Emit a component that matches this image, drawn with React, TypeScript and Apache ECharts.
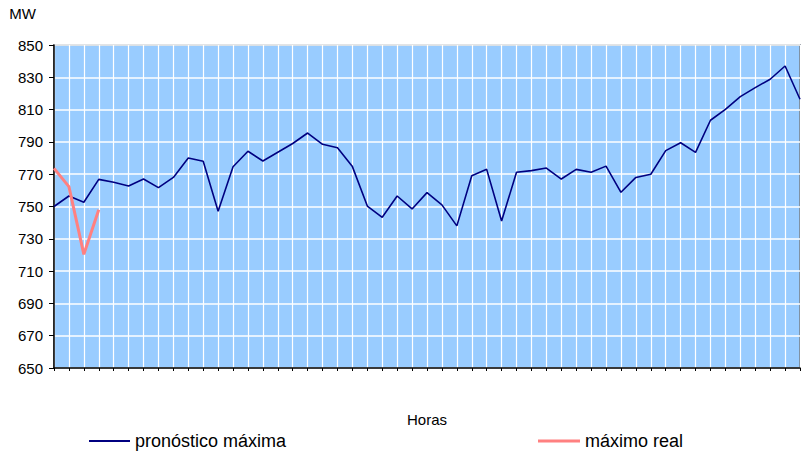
import React, { useEffect, useRef } from "react";
import * as echarts from "echarts";

const categories: string[] = Array.from({ length: 51 }, (_, i) => String(i + 1));

const forecastMax: number[] = [
  750, 756.5, 752.6, 766.8, 765, 762.7, 767, 761.7, 768, 780, 778, 747, 774.6,
  784.2, 778.2, 783.6, 789, 795.5, 788.5, 786.4, 774.7, 750.3, 743.3, 756.5,
  748.5, 758.6, 751, 738, 769, 773, 741, 771.2, 772.2, 773.8, 767, 773, 771.2,
  775, 758.8, 768, 770, 784.6, 789.5, 783.5, 803.4, 810.2, 818, 823.6, 828.8,
  837, 816.4,
];

const realMax: (number | null)[] = [773.6, 762.3, 720.4, 748];

const seriesNames = ["pronóstico máxima", "máximo real"];
const yAxisTitle = "MW";
const xAxisTitle = "Horas";

const FONT = "'Liberation Sans', Arial, sans-serif";

export default function App() {
  const ref = useRef<HTMLDivElement>(null);

  useEffect(() => {
    if (!ref.current) return;
    const chart = echarts.init(ref.current, undefined, { renderer: "svg" });
    chart.setOption({
      animation: false,
      backgroundColor: "#ffffff",
      textStyle: { fontFamily: FONT },
      grid: {
        left: 54,
        top: 45,
        right: 1,
        bottom: 85,
        show: true,
        backgroundColor: "#99ccff",
        borderColor: "#666f7a",
        borderWidth: 1.5,
      },
      legend: [
        {
          data: [{ name: seriesNames[0], icon: "rect" }],
          left: 84,
          top: 427,
          itemWidth: 41,
          itemHeight: 2,
          textStyle: { fontSize: 18, color: "#000", fontFamily: FONT },
        },
        {
          data: [{ name: seriesNames[1], icon: "rect" }],
          left: 533,
          top: 427,
          itemWidth: 42,
          itemHeight: 3,
          textStyle: { fontSize: 18, color: "#000", fontFamily: FONT },
        },
      ],
      xAxis: {
        type: "category",
        data: categories,
        boundaryGap: false,
        name: xAxisTitle,
        nameLocation: "middle",
        nameGap: 44,
        nameTextStyle: { fontSize: 15, color: "#000", fontFamily: FONT },
        axisLine: { show: true, lineStyle: { color: "#000", width: 1.5 } },
        axisTick: { show: true, interval: 0, length: 3, lineStyle: { color: "#000" } },
        axisLabel: { show: false },
        splitLine: { show: true, interval: 0, lineStyle: { color: "#ffffff", width: 1.2 } },
      },
      yAxis: {
        type: "value",
        min: 650,
        max: 850,
        interval: 20,
        name: yAxisTitle,
        nameLocation: "end",
        nameGap: 24,
        nameTextStyle: {
          fontSize: 15,
          color: "#000",
          align: "right",
          padding: [0, 18, 0, 0],
          fontFamily: FONT,
        },
        axisLine: { show: true, lineStyle: { color: "#000", width: 1.5 } },
        axisTick: { show: true, length: 5, lineStyle: { color: "#000" } },
        axisLabel: { fontSize: 15, color: "#000", margin: 11, fontFamily: FONT },
        splitLine: { show: true, lineStyle: { color: "#ffffff", width: 1.5 } },
      },
      series: [
        {
          name: seriesNames[0],
          type: "line",
          data: forecastMax,
          symbol: "none",
          lineStyle: { color: "#000080", width: 1.6 },
          itemStyle: { color: "#000080" },
          z: 2,
        },
        {
          name: seriesNames[1],
          type: "line",
          data: realMax,
          symbol: "none",
          connectNulls: false,
          lineStyle: { color: "#ff8080", width: 3 },
          itemStyle: { color: "#ff8080" },
          z: 3,
        },
      ],
    });
    return () => chart.dispose();
  }, []);

  return <div ref={ref} style={{ width: 801, height: 453, position: "absolute", left: 0, top: 0 }} />;
}
